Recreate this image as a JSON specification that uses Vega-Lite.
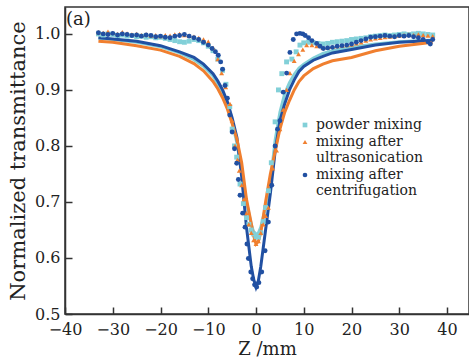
{
  "$schema": "https://vega.github.io/schema/vega-lite/v6.json",
  "width": 404,
  "height": 307,
  "autosize": {"type": "none"},
  "padding": {"left": 65, "top": 7, "right": 0, "bottom": 49},
  "background": "white",
  "title": {"text": "(a)", "anchor": "start", "frame": "group", "offset": -22, "dx": 1, "font": "DejaVu Serif", "fontSize": 18, "fontWeight": "normal", "color": "#222"},
  "config": {
    "view": {"stroke": "#333", "strokeWidth": 1.5},
    "axis": {"grid": false, "domainColor": "#333", "domainWidth": 1.5, "tickColor": "#333", "tickWidth": 1.5, "tickSize": -7, "labelFont": "DejaVu Serif", "labelFontSize": 16, "labelColor": "#222", "labelOverlap": false, "titleFont": "DejaVu Serif", "titleFontSize": 18, "titleFontWeight": "normal", "titleColor": "#222"}
  },
  "datasets": {
    "fit": [
      {"series": "powder mixing", "z": -33, "T": 0.992}, {"series": "powder mixing", "z": -30, "T": 0.99}, {"series": "powder mixing", "z": -25, "T": 0.985}, {"series": "powder mixing", "z": -20, "T": 0.977}, {"series": "powder mixing", "z": -16, "T": 0.966}, {"series": "powder mixing", "z": -13, "T": 0.954}, {"series": "powder mixing", "z": -11, "T": 0.942}, {"series": "powder mixing", "z": -9, "T": 0.925}, {"series": "powder mixing", "z": -8, "T": 0.911}, {"series": "powder mixing", "z": -7, "T": 0.895}, {"series": "powder mixing", "z": -6, "T": 0.873}, {"series": "powder mixing", "z": -5, "T": 0.843}, {"series": "powder mixing", "z": -4, "T": 0.805}, {"series": "powder mixing", "z": -3, "T": 0.755}, {"series": "powder mixing", "z": -2, "T": 0.7}, {"series": "powder mixing", "z": -1, "T": 0.66}, {"series": "powder mixing", "z": -0.5, "T": 0.647}, {"series": "powder mixing", "z": 0, "T": 0.642}, {"series": "powder mixing", "z": 0.5, "T": 0.645}, {"series": "powder mixing", "z": 1, "T": 0.655}, {"series": "powder mixing", "z": 2, "T": 0.69}, {"series": "powder mixing", "z": 3, "T": 0.735}, {"series": "powder mixing", "z": 4, "T": 0.81}, {"series": "powder mixing", "z": 5, "T": 0.86}, {"series": "powder mixing", "z": 6, "T": 0.893}, {"series": "powder mixing", "z": 7, "T": 0.913}, {"series": "powder mixing", "z": 8, "T": 0.928}, {"series": "powder mixing", "z": 9, "T": 0.939}, {"series": "powder mixing", "z": 10, "T": 0.946}, {"series": "powder mixing", "z": 12, "T": 0.957}, {"series": "powder mixing", "z": 14, "T": 0.965}, {"series": "powder mixing", "z": 16, "T": 0.97}, {"series": "powder mixing", "z": 20, "T": 0.976}, {"series": "powder mixing", "z": 25, "T": 0.982}, {"series": "powder mixing", "z": 30, "T": 0.986}, {"series": "powder mixing", "z": 37, "T": 0.989},
      {"series": "mixing after centrifugation", "z": -33, "T": 0.993}, {"series": "mixing after centrifugation", "z": -30, "T": 0.991}, {"series": "mixing after centrifugation", "z": -25, "T": 0.987}, {"series": "mixing after centrifugation", "z": -20, "T": 0.979}, {"series": "mixing after centrifugation", "z": -16, "T": 0.968}, {"series": "mixing after centrifugation", "z": -13, "T": 0.958}, {"series": "mixing after centrifugation", "z": -11, "T": 0.946}, {"series": "mixing after centrifugation", "z": -9, "T": 0.929}, {"series": "mixing after centrifugation", "z": -8, "T": 0.916}, {"series": "mixing after centrifugation", "z": -7, "T": 0.9}, {"series": "mixing after centrifugation", "z": -6, "T": 0.879}, {"series": "mixing after centrifugation", "z": -5, "T": 0.85}, {"series": "mixing after centrifugation", "z": -4, "T": 0.815}, {"series": "mixing after centrifugation", "z": -3, "T": 0.745}, {"series": "mixing after centrifugation", "z": -2, "T": 0.655}, {"series": "mixing after centrifugation", "z": -1, "T": 0.585}, {"series": "mixing after centrifugation", "z": -0.5, "T": 0.562}, {"series": "mixing after centrifugation", "z": 0, "T": 0.548}, {"series": "mixing after centrifugation", "z": 0.5, "T": 0.56}, {"series": "mixing after centrifugation", "z": 1, "T": 0.585}, {"series": "mixing after centrifugation", "z": 2, "T": 0.65}, {"series": "mixing after centrifugation", "z": 3, "T": 0.715}, {"series": "mixing after centrifugation", "z": 4, "T": 0.79}, {"series": "mixing after centrifugation", "z": 5, "T": 0.845}, {"series": "mixing after centrifugation", "z": 6, "T": 0.875}, {"series": "mixing after centrifugation", "z": 7, "T": 0.9}, {"series": "mixing after centrifugation", "z": 8, "T": 0.918}, {"series": "mixing after centrifugation", "z": 9, "T": 0.933}, {"series": "mixing after centrifugation", "z": 10, "T": 0.942}, {"series": "mixing after centrifugation", "z": 12, "T": 0.953}, {"series": "mixing after centrifugation", "z": 14, "T": 0.96}, {"series": "mixing after centrifugation", "z": 16, "T": 0.966}, {"series": "mixing after centrifugation", "z": 20, "T": 0.972}, {"series": "mixing after centrifugation", "z": 25, "T": 0.98}, {"series": "mixing after centrifugation", "z": 30, "T": 0.985}, {"series": "mixing after centrifugation", "z": 37, "T": 0.988},
      {"series": "mixing after ultrasonication", "z": -33, "T": 0.987}, {"series": "mixing after ultrasonication", "z": -30, "T": 0.985}, {"series": "mixing after ultrasonication", "z": -25, "T": 0.979}, {"series": "mixing after ultrasonication", "z": -20, "T": 0.971}, {"series": "mixing after ultrasonication", "z": -16, "T": 0.96}, {"series": "mixing after ultrasonication", "z": -13, "T": 0.947}, {"series": "mixing after ultrasonication", "z": -11, "T": 0.934}, {"series": "mixing after ultrasonication", "z": -9, "T": 0.915}, {"series": "mixing after ultrasonication", "z": -8, "T": 0.902}, {"series": "mixing after ultrasonication", "z": -7, "T": 0.886}, {"series": "mixing after ultrasonication", "z": -6, "T": 0.866}, {"series": "mixing after ultrasonication", "z": -5, "T": 0.84}, {"series": "mixing after ultrasonication", "z": -4, "T": 0.812}, {"series": "mixing after ultrasonication", "z": -3, "T": 0.77}, {"series": "mixing after ultrasonication", "z": -2, "T": 0.705}, {"series": "mixing after ultrasonication", "z": -1, "T": 0.662}, {"series": "mixing after ultrasonication", "z": -0.5, "T": 0.64}, {"series": "mixing after ultrasonication", "z": 0, "T": 0.625}, {"series": "mixing after ultrasonication", "z": 0.5, "T": 0.63}, {"series": "mixing after ultrasonication", "z": 1, "T": 0.645}, {"series": "mixing after ultrasonication", "z": 2, "T": 0.7}, {"series": "mixing after ultrasonication", "z": 3, "T": 0.75}, {"series": "mixing after ultrasonication", "z": 4, "T": 0.79}, {"series": "mixing after ultrasonication", "z": 5, "T": 0.83}, {"series": "mixing after ultrasonication", "z": 6, "T": 0.86}, {"series": "mixing after ultrasonication", "z": 7, "T": 0.881}, {"series": "mixing after ultrasonication", "z": 8, "T": 0.9}, {"series": "mixing after ultrasonication", "z": 9, "T": 0.915}, {"series": "mixing after ultrasonication", "z": 10, "T": 0.925}, {"series": "mixing after ultrasonication", "z": 12, "T": 0.938}, {"series": "mixing after ultrasonication", "z": 14, "T": 0.946}, {"series": "mixing after ultrasonication", "z": 16, "T": 0.952}, {"series": "mixing after ultrasonication", "z": 20, "T": 0.958}, {"series": "mixing after ultrasonication", "z": 25, "T": 0.97}, {"series": "mixing after ultrasonication", "z": 30, "T": 0.978}, {"series": "mixing after ultrasonication", "z": 37, "T": 0.985}
    ],
    "pts": [
      {"series": "powder mixing", "z": -33, "T": 1.0}, {"series": "powder mixing", "z": -32, "T": 0.998}, {"series": "powder mixing", "z": -31, "T": 1.0}, {"series": "powder mixing", "z": -30, "T": 0.999}, {"series": "powder mixing", "z": -29, "T": 0.997}, {"series": "powder mixing", "z": -28, "T": 0.998}, {"series": "powder mixing", "z": -27, "T": 0.996}, {"series": "powder mixing", "z": -26, "T": 0.997}, {"series": "powder mixing", "z": -25, "T": 0.995}, {"series": "powder mixing", "z": -24, "T": 0.996}, {"series": "powder mixing", "z": -23, "T": 0.994}, {"series": "powder mixing", "z": -22, "T": 0.995}, {"series": "powder mixing", "z": -21, "T": 0.993}, {"series": "powder mixing", "z": -20, "T": 0.994}, {"series": "powder mixing", "z": -19, "T": 0.992}, {"series": "powder mixing", "z": -18, "T": 0.99}, {"series": "powder mixing", "z": -17, "T": 0.988}, {"series": "powder mixing", "z": -16, "T": 0.986}, {"series": "powder mixing", "z": -15, "T": 0.985}, {"series": "powder mixing", "z": -14, "T": 0.987}, {"series": "powder mixing", "z": -13, "T": 0.99}, {"series": "powder mixing", "z": -12, "T": 0.988}, {"series": "powder mixing", "z": -11, "T": 0.984}, {"series": "powder mixing", "z": -10, "T": 0.978}, {"series": "powder mixing", "z": -9, "T": 0.97}, {"series": "powder mixing", "z": -8, "T": 0.955}, {"series": "powder mixing", "z": -7, "T": 0.935}, {"series": "powder mixing", "z": -6.3, "T": 0.91}, {"series": "powder mixing", "z": -5.5, "T": 0.87}, {"series": "powder mixing", "z": -5, "T": 0.83}, {"series": "powder mixing", "z": -4.5, "T": 0.8}, {"series": "powder mixing", "z": -4.05, "T": 0.78}, {"series": "powder mixing", "z": -3.35, "T": 0.732}, {"series": "powder mixing", "z": -2.65, "T": 0.697}, {"series": "powder mixing", "z": -2, "T": 0.672}, {"series": "powder mixing", "z": -1.5, "T": 0.66}, {"series": "powder mixing", "z": -1, "T": 0.65}, {"series": "powder mixing", "z": -0.5, "T": 0.643}, {"series": "powder mixing", "z": 0, "T": 0.638}, {"series": "powder mixing", "z": 0.5, "T": 0.637}, {"series": "powder mixing", "z": 1, "T": 0.645}, {"series": "powder mixing", "z": 1.5, "T": 0.665}, {"series": "powder mixing", "z": 2, "T": 0.69}, {"series": "powder mixing", "z": 2.6, "T": 0.72}, {"series": "powder mixing", "z": 3.2, "T": 0.77}, {"series": "powder mixing", "z": 4, "T": 0.843}, {"series": "powder mixing", "z": 4.7, "T": 0.9}, {"series": "powder mixing", "z": 5.4, "T": 0.929}, {"series": "powder mixing", "z": 6.4, "T": 0.95}, {"series": "powder mixing", "z": 7.5, "T": 0.955}, {"series": "powder mixing", "z": 8.4, "T": 0.968}, {"series": "powder mixing", "z": 9.2, "T": 0.98}, {"series": "powder mixing", "z": 10, "T": 0.984}, {"series": "powder mixing", "z": 11, "T": 0.985}, {"series": "powder mixing", "z": 12, "T": 0.984}, {"series": "powder mixing", "z": 13, "T": 0.983}, {"series": "powder mixing", "z": 14, "T": 0.982}, {"series": "powder mixing", "z": 15, "T": 0.983}, {"series": "powder mixing", "z": 16, "T": 0.985}, {"series": "powder mixing", "z": 17, "T": 0.986}, {"series": "powder mixing", "z": 18, "T": 0.987}, {"series": "powder mixing", "z": 19, "T": 0.988}, {"series": "powder mixing", "z": 20, "T": 0.99}, {"series": "powder mixing", "z": 21, "T": 0.991}, {"series": "powder mixing", "z": 22, "T": 0.992}, {"series": "powder mixing", "z": 23, "T": 0.993}, {"series": "powder mixing", "z": 24, "T": 0.995}, {"series": "powder mixing", "z": 25, "T": 0.996}, {"series": "powder mixing", "z": 26, "T": 0.997}, {"series": "powder mixing", "z": 27, "T": 0.998}, {"series": "powder mixing", "z": 28, "T": 0.997}, {"series": "powder mixing", "z": 29, "T": 0.998}, {"series": "powder mixing", "z": 30, "T": 0.999}, {"series": "powder mixing", "z": 31, "T": 1.0}, {"series": "powder mixing", "z": 32, "T": 0.999}, {"series": "powder mixing", "z": 33, "T": 1.0}, {"series": "powder mixing", "z": 34, "T": 1.001}, {"series": "powder mixing", "z": 35, "T": 1.0}, {"series": "powder mixing", "z": 36, "T": 0.999}, {"series": "powder mixing", "z": 37, "T": 0.998},
      {"series": "mixing after ultrasonication", "z": -33, "T": 1.003}, {"series": "mixing after ultrasonication", "z": -32, "T": 1.002}, {"series": "mixing after ultrasonication", "z": -31, "T": 1.004}, {"series": "mixing after ultrasonication", "z": -30, "T": 1.002}, {"series": "mixing after ultrasonication", "z": -29, "T": 1.0}, {"series": "mixing after ultrasonication", "z": -28, "T": 1.003}, {"series": "mixing after ultrasonication", "z": -27, "T": 1.001}, {"series": "mixing after ultrasonication", "z": -26, "T": 0.999}, {"series": "mixing after ultrasonication", "z": -25, "T": 1.0}, {"series": "mixing after ultrasonication", "z": -24, "T": 0.998}, {"series": "mixing after ultrasonication", "z": -23, "T": 0.999}, {"series": "mixing after ultrasonication", "z": -22, "T": 0.997}, {"series": "mixing after ultrasonication", "z": -21, "T": 0.998}, {"series": "mixing after ultrasonication", "z": -20, "T": 0.996}, {"series": "mixing after ultrasonication", "z": -19, "T": 0.998}, {"series": "mixing after ultrasonication", "z": -18, "T": 0.997}, {"series": "mixing after ultrasonication", "z": -17, "T": 0.999}, {"series": "mixing after ultrasonication", "z": -16, "T": 1.0}, {"series": "mixing after ultrasonication", "z": -15, "T": 0.998}, {"series": "mixing after ultrasonication", "z": -14, "T": 0.997}, {"series": "mixing after ultrasonication", "z": -13, "T": 0.995}, {"series": "mixing after ultrasonication", "z": -12, "T": 0.993}, {"series": "mixing after ultrasonication", "z": -11, "T": 0.99}, {"series": "mixing after ultrasonication", "z": -10, "T": 0.986}, {"series": "mixing after ultrasonication", "z": -9, "T": 0.975}, {"series": "mixing after ultrasonication", "z": -8, "T": 0.955}, {"series": "mixing after ultrasonication", "z": -7.2, "T": 0.93}, {"series": "mixing after ultrasonication", "z": -6.35, "T": 0.905}, {"series": "mixing after ultrasonication", "z": -5.45, "T": 0.875}, {"series": "mixing after ultrasonication", "z": -5, "T": 0.845}, {"series": "mixing after ultrasonication", "z": -4.4, "T": 0.8}, {"series": "mixing after ultrasonication", "z": -3.9, "T": 0.775}, {"series": "mixing after ultrasonication", "z": -3.5, "T": 0.756}, {"series": "mixing after ultrasonication", "z": -3, "T": 0.73}, {"series": "mixing after ultrasonication", "z": -2.5, "T": 0.705}, {"series": "mixing after ultrasonication", "z": -2, "T": 0.68}, {"series": "mixing after ultrasonication", "z": -1.5, "T": 0.66}, {"series": "mixing after ultrasonication", "z": -1, "T": 0.645}, {"series": "mixing after ultrasonication", "z": -0.5, "T": 0.632}, {"series": "mixing after ultrasonication", "z": 0, "T": 0.625}, {"series": "mixing after ultrasonication", "z": 0.5, "T": 0.63}, {"series": "mixing after ultrasonication", "z": 1, "T": 0.645}, {"series": "mixing after ultrasonication", "z": 1.5, "T": 0.66}, {"series": "mixing after ultrasonication", "z": 2, "T": 0.675}, {"series": "mixing after ultrasonication", "z": 2.6, "T": 0.69}, {"series": "mixing after ultrasonication", "z": 2.9, "T": 0.733}, {"series": "mixing after ultrasonication", "z": 3.5, "T": 0.76}, {"series": "mixing after ultrasonication", "z": 4.3, "T": 0.792}, {"series": "mixing after ultrasonication", "z": 5, "T": 0.83}, {"series": "mixing after ultrasonication", "z": 5.7, "T": 0.865}, {"series": "mixing after ultrasonication", "z": 6.4, "T": 0.9}, {"series": "mixing after ultrasonication", "z": 7.1, "T": 0.93}, {"series": "mixing after ultrasonication", "z": 8, "T": 0.952}, {"series": "mixing after ultrasonication", "z": 8.9, "T": 0.964}, {"series": "mixing after ultrasonication", "z": 9.8, "T": 0.972}, {"series": "mixing after ultrasonication", "z": 10.6, "T": 0.98}, {"series": "mixing after ultrasonication", "z": 11.7, "T": 0.98}, {"series": "mixing after ultrasonication", "z": 12.7, "T": 0.978}, {"series": "mixing after ultrasonication", "z": 14, "T": 0.975}, {"series": "mixing after ultrasonication", "z": 15, "T": 0.976}, {"series": "mixing after ultrasonication", "z": 16, "T": 0.977}, {"series": "mixing after ultrasonication", "z": 17, "T": 0.978}, {"series": "mixing after ultrasonication", "z": 18, "T": 0.979}, {"series": "mixing after ultrasonication", "z": 19, "T": 0.98}, {"series": "mixing after ultrasonication", "z": 20, "T": 0.981}, {"series": "mixing after ultrasonication", "z": 21, "T": 0.983}, {"series": "mixing after ultrasonication", "z": 22, "T": 0.985}, {"series": "mixing after ultrasonication", "z": 23, "T": 0.988}, {"series": "mixing after ultrasonication", "z": 24, "T": 0.99}, {"series": "mixing after ultrasonication", "z": 25, "T": 0.992}, {"series": "mixing after ultrasonication", "z": 26, "T": 0.993}, {"series": "mixing after ultrasonication", "z": 27, "T": 0.994}, {"series": "mixing after ultrasonication", "z": 28, "T": 0.995}, {"series": "mixing after ultrasonication", "z": 29, "T": 0.996}, {"series": "mixing after ultrasonication", "z": 30, "T": 0.997}, {"series": "mixing after ultrasonication", "z": 31, "T": 0.998}, {"series": "mixing after ultrasonication", "z": 32, "T": 0.999}, {"series": "mixing after ultrasonication", "z": 33, "T": 0.998}, {"series": "mixing after ultrasonication", "z": 34, "T": 0.999}, {"series": "mixing after ultrasonication", "z": 35, "T": 0.998}, {"series": "mixing after ultrasonication", "z": 36, "T": 0.997}, {"series": "mixing after ultrasonication", "z": 37, "T": 0.996},
      {"series": "mixing after centrifugation", "z": -33, "T": 1.002}, {"series": "mixing after centrifugation", "z": -32, "T": 1.0}, {"series": "mixing after centrifugation", "z": -31, "T": 0.999}, {"series": "mixing after centrifugation", "z": -30, "T": 1.001}, {"series": "mixing after centrifugation", "z": -29, "T": 0.998}, {"series": "mixing after centrifugation", "z": -28, "T": 1.0}, {"series": "mixing after centrifugation", "z": -27, "T": 0.999}, {"series": "mixing after centrifugation", "z": -26, "T": 0.997}, {"series": "mixing after centrifugation", "z": -25, "T": 0.998}, {"series": "mixing after centrifugation", "z": -24, "T": 0.996}, {"series": "mixing after centrifugation", "z": -23, "T": 0.998}, {"series": "mixing after centrifugation", "z": -22, "T": 0.997}, {"series": "mixing after centrifugation", "z": -21, "T": 0.995}, {"series": "mixing after centrifugation", "z": -20, "T": 0.996}, {"series": "mixing after centrifugation", "z": -19, "T": 0.994}, {"series": "mixing after centrifugation", "z": -18, "T": 0.993}, {"series": "mixing after centrifugation", "z": -17, "T": 0.996}, {"series": "mixing after centrifugation", "z": -16, "T": 0.997}, {"series": "mixing after centrifugation", "z": -15, "T": 0.999}, {"series": "mixing after centrifugation", "z": -14, "T": 0.996}, {"series": "mixing after centrifugation", "z": -13, "T": 0.993}, {"series": "mixing after centrifugation", "z": -12, "T": 0.99}, {"series": "mixing after centrifugation", "z": -11, "T": 0.985}, {"series": "mixing after centrifugation", "z": -10, "T": 0.98}, {"series": "mixing after centrifugation", "z": -9.2, "T": 0.974}, {"series": "mixing after centrifugation", "z": -8.5, "T": 0.968}, {"series": "mixing after centrifugation", "z": -7.9, "T": 0.962}, {"series": "mixing after centrifugation", "z": -7.4, "T": 0.95}, {"series": "mixing after centrifugation", "z": -7, "T": 0.937}, {"series": "mixing after centrifugation", "z": -6.5, "T": 0.908}, {"series": "mixing after centrifugation", "z": -6, "T": 0.885}, {"series": "mixing after centrifugation", "z": -5.5, "T": 0.855}, {"series": "mixing after centrifugation", "z": -5, "T": 0.825}, {"series": "mixing after centrifugation", "z": -4.5, "T": 0.795}, {"series": "mixing after centrifugation", "z": -4.05, "T": 0.769}, {"series": "mixing after centrifugation", "z": -3.7, "T": 0.74}, {"series": "mixing after centrifugation", "z": -3.35, "T": 0.712}, {"series": "mixing after centrifugation", "z": -2.8, "T": 0.68}, {"series": "mixing after centrifugation", "z": -2.3, "T": 0.655}, {"series": "mixing after centrifugation", "z": -1.9, "T": 0.625}, {"series": "mixing after centrifugation", "z": -1.6, "T": 0.599}, {"series": "mixing after centrifugation", "z": -1.1, "T": 0.575}, {"series": "mixing after centrifugation", "z": -0.7, "T": 0.563}, {"series": "mixing after centrifugation", "z": -0.3, "T": 0.552}, {"series": "mixing after centrifugation", "z": 0.15, "T": 0.548}, {"series": "mixing after centrifugation", "z": 0.6, "T": 0.556}, {"series": "mixing after centrifugation", "z": 1.2, "T": 0.575}, {"series": "mixing after centrifugation", "z": 1.9, "T": 0.613}, {"series": "mixing after centrifugation", "z": 2.6, "T": 0.664}, {"series": "mixing after centrifugation", "z": 3.3, "T": 0.73}, {"series": "mixing after centrifugation", "z": 4, "T": 0.8}, {"series": "mixing after centrifugation", "z": 4.5, "T": 0.83}, {"series": "mixing after centrifugation", "z": 5, "T": 0.845}, {"series": "mixing after centrifugation", "z": 5.7, "T": 0.896}, {"series": "mixing after centrifugation", "z": 6.4, "T": 0.93}, {"series": "mixing after centrifugation", "z": 7.1, "T": 0.967}, {"series": "mixing after centrifugation", "z": 7.8, "T": 0.99}, {"series": "mixing after centrifugation", "z": 8.5, "T": 1.0}, {"series": "mixing after centrifugation", "z": 9.2, "T": 1.001}, {"series": "mixing after centrifugation", "z": 9.8, "T": 1.0}, {"series": "mixing after centrifugation", "z": 10.3, "T": 0.997}, {"series": "mixing after centrifugation", "z": 11, "T": 0.993}, {"series": "mixing after centrifugation", "z": 11.7, "T": 0.988}, {"series": "mixing after centrifugation", "z": 12.7, "T": 0.983}, {"series": "mixing after centrifugation", "z": 13.4, "T": 0.978}, {"series": "mixing after centrifugation", "z": 14.1, "T": 0.974}, {"series": "mixing after centrifugation", "z": 15, "T": 0.975}, {"series": "mixing after centrifugation", "z": 16, "T": 0.976}, {"series": "mixing after centrifugation", "z": 17, "T": 0.978}, {"series": "mixing after centrifugation", "z": 18, "T": 0.979}, {"series": "mixing after centrifugation", "z": 19, "T": 0.98}, {"series": "mixing after centrifugation", "z": 20, "T": 0.982}, {"series": "mixing after centrifugation", "z": 21, "T": 0.985}, {"series": "mixing after centrifugation", "z": 22, "T": 0.988}, {"series": "mixing after centrifugation", "z": 23, "T": 0.991}, {"series": "mixing after centrifugation", "z": 24, "T": 0.994}, {"series": "mixing after centrifugation", "z": 25, "T": 0.995}, {"series": "mixing after centrifugation", "z": 26, "T": 0.996}, {"series": "mixing after centrifugation", "z": 27, "T": 0.997}, {"series": "mixing after centrifugation", "z": 28, "T": 0.996}, {"series": "mixing after centrifugation", "z": 29, "T": 0.995}, {"series": "mixing after centrifugation", "z": 30, "T": 0.997}, {"series": "mixing after centrifugation", "z": 31, "T": 0.996}, {"series": "mixing after centrifugation", "z": 32, "T": 0.997}, {"series": "mixing after centrifugation", "z": 33, "T": 0.995}, {"series": "mixing after centrifugation", "z": 34, "T": 0.993}, {"series": "mixing after centrifugation", "z": 35, "T": 0.99}, {"series": "mixing after centrifugation", "z": 36, "T": 0.986}, {"series": "mixing after centrifugation", "z": 36.5, "T": 0.982}, {"series": "mixing after centrifugation", "z": 37, "T": 0.99}
    ]
  },
  "encoding": {
    "x": {"field": "z", "type": "quantitative", "scale": {"domain": [-40, 44.6], "nice": false, "zero": false}, "axis": {"values": [-40, -30, -20, -10, 0, 10, 20, 30, 40], "title": "Z /mm", "labelPadding": 14, "titlePadding": 3, "labelFlush": false}},
    "y": {"field": "T", "type": "quantitative", "scale": {"domain": [0.5, 1.048], "nice": false, "zero": false}, "axis": {"values": [0.5, 0.6, 0.7, 0.8, 0.9, 1.0], "format": ".1f", "title": "Normalized transmittance", "labelPadding": 12, "titlePadding": 6, "titleFontSize": 21}}
  },
  "layer": [
    {
      "data": {"name": "fit"},
      "mark": {"type": "line", "strokeWidth": 3, "clip": true},
      "encoding": {
        "stroke": {"field": "series", "type": "nominal", "scale": {"domain": ["powder mixing", "mixing after centrifugation", "mixing after ultrasonication"], "range": ["#82d0d8", "#2150a2", "#f07f2f"]}, "legend": null},
        "detail": {"field": "series"}
      }
    },
    {
      "data": {"name": "pts"},
      "mark": {"type": "point", "filled": true, "size": 24, "opacity": 1},
      "encoding": {
        "color": {"field": "series", "type": "nominal", "scale": {"domain": ["powder mixing", "mixing after ultrasonication", "mixing after centrifugation"], "range": ["#82d0d8", "#f07f2f", "#2150a2"]}, "legend": {"orient": "none", "legendX": 233, "legendY": 111, "title": null, "labelFont": "DejaVu Serif", "labelFontSize": 14, "labelColor": "#222", "symbolSize": 22, "labelExpr": "datum.label == 'powder mixing' ? datum.label : ['mixing after', slice(datum.label, 13)]", "rowPadding": 3, "labelLimit": 300}},
        "shape": {"field": "series", "type": "nominal", "scale": {"domain": ["powder mixing", "mixing after ultrasonication", "mixing after centrifugation"], "range": ["square", "triangle-up", "circle"]}}
      }
    }
  ]
}
